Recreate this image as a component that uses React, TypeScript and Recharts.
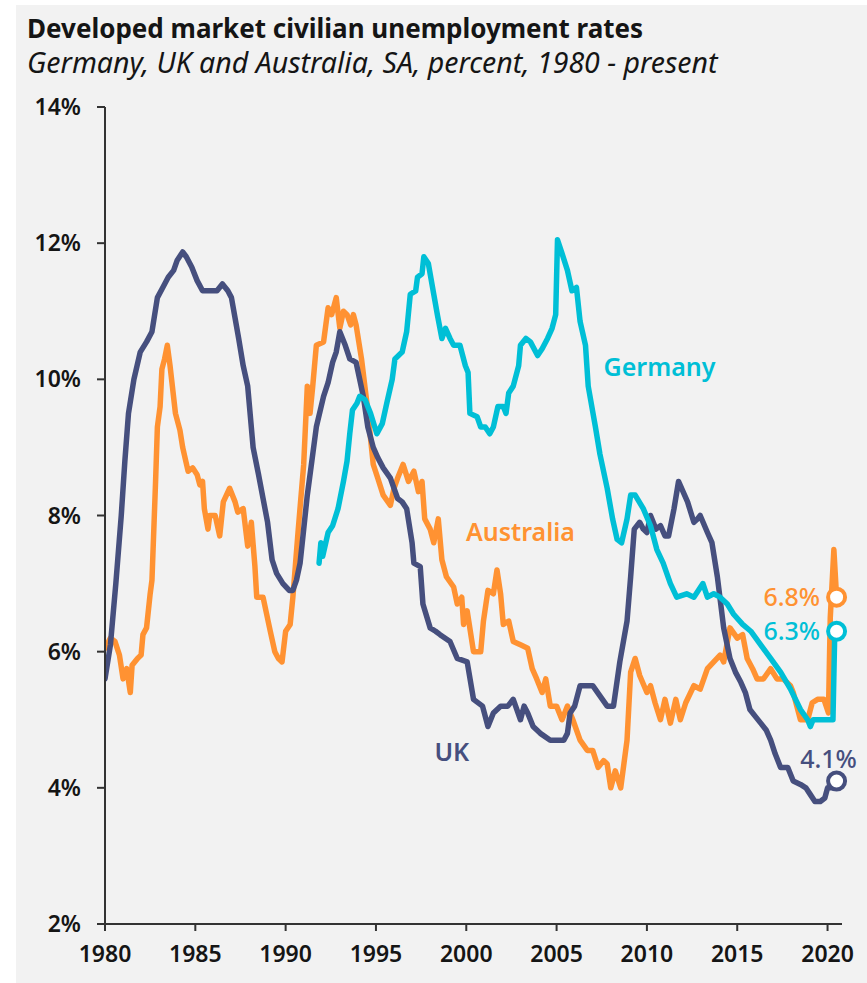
import React from 'react';
import { LineChart, Line, XAxis, YAxis, ReferenceDot } from 'recharts';

// UK unemployment, SA, percent
const ukYears = [
  1980.0, 1980.3, 1980.6, 1980.9, 1981.1, 1981.3, 1981.6, 1981.95, 1982.3, 1982.6, 1982.9,
  1983.2, 1983.5, 1983.8, 1984.0, 1984.3, 1984.5, 1984.8, 1985.1, 1985.4, 1985.8, 1986.2,
  1986.5, 1986.8, 1987.0, 1987.2, 1987.4, 1987.65, 1987.9, 1988.2, 1988.5, 1988.75, 1989.0,
  1989.25, 1989.5, 1989.85, 1990.2, 1990.4, 1990.6, 1990.8, 1991.0, 1991.2, 1991.45, 1991.7,
  1992.1, 1992.35, 1992.6, 1992.8, 1993.0, 1993.3, 1993.55, 1993.9, 1994.1, 1994.3, 1994.55,
  1994.85, 1995.1, 1995.4, 1995.8, 1996.2, 1996.45, 1996.7, 1997.0, 1997.1, 1997.45, 1997.6,
  1998.0, 1998.3, 1998.55, 1999.1, 1999.5, 2000.05, 2000.4, 2000.9, 2001.2, 2001.5, 2001.9,
  2002.3, 2002.6, 2003.0, 2003.2, 2003.4, 2003.7, 2004.1, 2004.65, 2005.4, 2005.6, 2005.75,
  2006.0, 2006.3, 2007.0, 2007.4, 2007.8, 2008.15, 2008.5, 2008.9, 2009.1, 2009.3, 2009.6,
  2009.8, 2010.0, 2010.2, 2010.5, 2010.75, 2011.0, 2011.2, 2011.5, 2011.75, 2012.0, 2012.25,
  2012.6, 2012.8, 2012.95, 2013.35, 2013.6, 2013.9, 2014.25, 2014.6, 2014.9, 2015.2, 2015.45,
  2015.7, 2016.0, 2016.3, 2016.6, 2016.85, 2017.1, 2017.4, 2017.8, 2018.1, 2018.5, 2018.8,
  2019.05, 2019.3, 2019.6, 2019.85, 2020.0, 2020.3, 2020.5,
];
const ukRates = [
  5.6, 6.1, 7.0, 8.0, 8.8, 9.5, 10.0, 10.4, 10.55, 10.7, 11.2,
  11.35, 11.5, 11.6, 11.75, 11.87, 11.8, 11.65, 11.45, 11.3, 11.3, 11.3,
  11.4, 11.3, 11.2, 10.9, 10.6, 10.2, 9.9, 9.0, 8.6, 8.25, 7.9,
  7.35, 7.15, 7.0, 6.9, 6.9, 7.05, 7.3, 7.8, 8.3, 8.8, 9.3,
  9.75, 9.95, 10.25, 10.4, 10.7, 10.5, 10.3, 10.25, 10.0, 9.75, 9.3,
  9.0, 8.85, 8.7, 8.55, 8.25, 8.2, 8.1, 7.6, 7.3, 7.25, 6.7,
  6.35, 6.3, 6.25, 6.15, 5.9, 5.85, 5.3, 5.2, 4.9, 5.1, 5.2,
  5.2, 5.3, 5.0, 5.2, 5.1, 4.9, 4.8, 4.7, 4.7, 4.8, 5.1,
  5.2, 5.5, 5.5, 5.35, 5.2, 5.2, 5.85, 6.45, 7.1, 7.8, 7.9,
  7.8, 7.75, 8.0, 7.8, 7.85, 7.7, 7.7, 8.1, 8.5, 8.35, 8.2,
  7.9, 7.95, 8.0, 7.75, 7.6, 7.1, 6.35, 5.9, 5.7, 5.55, 5.4,
  5.15, 5.05, 4.95, 4.85, 4.7, 4.5, 4.3, 4.3, 4.1, 4.05, 4.0,
  3.9, 3.8, 3.8, 3.85, 4.0, 4.0, 4.1,
];

// Australia unemployment, SA, percent
const auYears = [
  1980.0, 1980.3, 1980.55, 1980.8, 1981.0, 1981.2, 1981.4, 1981.5, 1981.8, 1982.0, 1982.1,
  1982.3, 1982.5, 1982.6, 1982.8, 1982.9, 1983.05, 1983.15, 1983.3, 1983.45, 1983.6, 1983.9,
  1984.15, 1984.3, 1984.6, 1984.85, 1985.1, 1985.25, 1985.4, 1985.5, 1985.7, 1985.8, 1986.1,
  1986.35, 1986.55, 1986.9, 1987.2, 1987.35, 1987.65, 1987.9, 1988.1, 1988.3, 1988.4, 1988.75,
  1988.95, 1989.15, 1989.4, 1989.6, 1989.8, 1990.0, 1990.25, 1990.4, 1990.7, 1991.0, 1991.2,
  1991.35, 1991.5, 1991.7, 1992.1, 1992.35, 1992.55, 1992.8, 1993.0, 1993.2, 1993.4, 1993.6,
  1993.75, 1993.9, 1994.2, 1994.5, 1994.85, 1995.1, 1995.4, 1995.8, 1996.0, 1996.2, 1996.5,
  1996.8, 1997.1, 1997.35, 1997.55, 1997.7, 1998.0, 1998.2, 1998.45, 1998.65, 1998.9, 1999.3,
  1999.5, 1999.75, 1999.85, 2000.05, 2000.4, 2000.8, 2000.95, 2001.2, 2001.5, 2001.7, 2001.9,
  2002.05, 2002.35, 2002.6, 2003.0, 2003.4, 2003.65, 2003.9, 2004.2, 2004.4, 2004.65, 2005.0,
  2005.3, 2005.6, 2005.9, 2006.3, 2006.7, 2007.0, 2007.3, 2007.6, 2007.8, 2008.0, 2008.25,
  2008.55, 2008.9, 2009.1, 2009.35, 2009.6, 2010.0, 2010.2, 2010.45, 2010.75, 2011.0, 2011.3,
  2011.6, 2011.85, 2012.15, 2012.6, 2012.95, 2013.35, 2013.7, 2014.05, 2014.25, 2014.6, 2015.0,
  2015.3, 2015.55, 2015.85, 2016.1, 2016.45, 2016.85, 2017.2, 2017.55, 2017.95, 2018.1, 2018.5,
  2018.9, 2019.15, 2019.45, 2019.8, 2020.05, 2020.15, 2020.35, 2020.5,
];
const auRates = [
  6.05, 6.2, 6.15, 5.95, 5.6, 5.75, 5.4, 5.8, 5.9, 5.95, 6.25,
  6.35, 6.85, 7.05, 8.5, 9.3, 9.6, 10.15, 10.3, 10.5, 10.2, 9.5,
  9.25, 9.0, 8.65, 8.7, 8.6, 8.45, 8.5, 8.1, 7.8, 8.0, 8.0,
  7.7, 8.2, 8.4, 8.2, 8.05, 8.1, 7.55, 7.9, 7.25, 6.8, 6.8,
  6.55, 6.3, 6.0, 5.9, 5.85, 6.3, 6.4, 6.8, 7.8, 8.75, 9.9,
  9.5, 9.9, 10.5, 10.55, 11.05, 10.95, 11.2, 10.75, 11.0, 10.95, 10.8,
  10.95, 10.8, 10.3, 9.65, 8.75, 8.55, 8.3, 8.15, 8.4, 8.55, 8.75,
  8.5, 8.65, 8.35, 8.5, 7.95, 7.8, 7.6, 7.95, 7.35, 7.1, 6.95,
  6.7, 6.8, 6.4, 6.6, 6.0, 6.0, 6.45, 6.9, 6.85, 7.2, 6.85,
  6.4, 6.45, 6.15, 6.1, 6.05, 5.75, 5.6, 5.4, 5.6, 5.2, 5.2,
  5.0, 5.2, 5.0, 4.7, 4.55, 4.55, 4.3, 4.4, 4.35, 4.0, 4.25,
  4.0, 4.7, 5.7, 5.9, 5.65, 5.4, 5.5, 5.25, 5.0, 5.3, 4.95,
  5.3, 5.0, 5.25, 5.5, 5.45, 5.75, 5.85, 5.95, 5.85, 6.35, 6.2,
  6.25, 5.9, 5.75, 5.6, 5.6, 5.75, 5.6, 5.6, 5.5, 5.4, 5.0,
  5.0, 5.25, 5.3, 5.3, 5.1, 6.5, 7.5, 6.8,
];

// Germany unemployment, SA, percent (from reunification)
const deYears = [
  1991.85, 1991.95, 1992.05, 1992.35, 1992.6, 1992.9, 1993.2, 1993.4, 1993.55, 1993.7, 1993.95,
  1994.1, 1994.4, 1994.7, 1995.05, 1995.35, 1995.6, 1995.9, 1996.05, 1996.45, 1996.7, 1996.9,
  1997.2, 1997.3, 1997.55, 1997.65, 1997.9, 1998.2, 1998.4, 1998.65, 1998.85, 1999.1, 1999.3,
  1999.65, 1999.95, 2000.1, 2000.2, 2000.6, 2000.8, 2001.05, 2001.3, 2001.5, 2001.75, 2002.05,
  2002.2, 2002.35, 2002.6, 2002.9, 2003.0, 2003.3, 2003.55, 2003.95, 2004.2, 2004.5, 2004.75,
  2004.95, 2005.05, 2005.3, 2005.6, 2005.85, 2006.1, 2006.3, 2006.6, 2006.75, 2007.15, 2007.4,
  2007.8, 2008.1, 2008.35, 2008.6, 2008.9, 2009.1, 2009.35, 2009.8, 2010.2, 2010.55, 2010.9,
  2011.3, 2011.65, 2012.2, 2012.6, 2013.1, 2013.35, 2013.7, 2014.05, 2014.45, 2014.8, 2015.3,
  2015.75, 2016.3, 2016.85, 2017.4, 2017.95, 2018.5, 2018.9, 2019.05, 2019.2, 2020.05, 2020.3,
  2020.4,
];
const deRates = [
  7.3, 7.6, 7.4, 7.75, 7.85, 8.1, 8.5, 8.8, 9.2, 9.55, 9.65,
  9.75, 9.7, 9.5, 9.2, 9.35, 9.65, 10.0, 10.3, 10.4, 10.7, 11.25,
  11.3, 11.5, 11.55, 11.8, 11.7, 11.25, 10.95, 10.6, 10.75, 10.6, 10.5,
  10.5, 10.2, 10.1, 9.5, 9.45, 9.3, 9.3, 9.2, 9.3, 9.6, 9.6,
  9.5, 9.8, 9.9, 10.2, 10.5, 10.6, 10.55, 10.35, 10.45, 10.6, 10.75,
  10.95, 12.05, 11.85, 11.6, 11.3, 11.35, 10.85, 10.5, 9.9, 9.3, 8.9,
  8.4, 7.95, 7.65, 7.6, 7.95, 8.3, 8.3, 8.1, 7.85, 7.5, 7.3,
  7.0, 6.8, 6.85, 6.8, 7.0, 6.8, 6.85, 6.8, 6.7, 6.55, 6.4,
  6.3, 6.1, 5.9, 5.7, 5.45, 5.15, 5.0, 4.9, 5.0, 5.0, 5.0,
  6.3,
];

const xTicks = [1980, 1985, 1990, 1995, 2000, 2005, 2010, 2015, 2020];
const yTicks = [2, 4, 6, 8, 10, 12, 14];

const NAVY = '#464f7e';
const ORANGE = '#ff9232';
const CYAN = '#00bfd6';
const INK = '#151515';
const FONT = '"Noto Sans", "Open Sans", sans-serif';

const toPoints = (years: number[], rates: number[]) =>
  years.map((year, i) => ({ year, rate: rates[i] }));

const ukData = toPoints(ukYears, ukRates);
const auData = toPoints(auYears, auRates);
const deData = toPoints(deYears, deRates);

const last = (arr: number[]) => arr[arr.length - 1];
const endX = 2020.5;

export default function App() {
  const tickStyle = { fill: INK, fontSize: 23, fontWeight: 600, fontFamily: FONT };
  const lineProps = {
    type: 'linear' as const,
    dataKey: 'rate',
    strokeWidth: 5.5,
    strokeLinejoin: 'round' as const,
    strokeLinecap: 'round' as const,
    dot: false,
    activeDot: false,
    isAnimationActive: false,
  };
  const seriesLabel = (text: string, color: string) => ({
    value: text,
    position: 'center' as const,
    fill: color,
    fontSize: 25,
    fontWeight: 600,
    fontFamily: FONT,
  });
  const endLabel = (value: number, color: string, position: 'left' | 'top', extra = {}) => ({
    value: `${value}%`,
    position,
    offset: 8,
    fill: color,
    fontSize: 25,
    fontWeight: 500,
    fontFamily: FONT,
    ...extra,
  });

  return (
    <div style={{ position: 'absolute', left: 0, top: 0, width: 867, height: 983, background: '#fff', fontFamily: FONT }}>
      <div style={{ position: 'absolute', left: 16, top: 5, width: 851, height: 978, background: '#f2f2f2' }} />
      <div style={{ position: 'absolute', left: 27, top: 13, height: 30, lineHeight: '30px', fontSize: 26, fontWeight: 700, color: INK, whiteSpace: 'nowrap' }}>
        Developed market civilian unemployment rates
      </div>
      <div style={{ position: 'absolute', left: 27, top: 47, height: 30, lineHeight: '30px', fontSize: 28.5, fontStyle: 'italic', color: INK, whiteSpace: 'nowrap' }}>
        Germany, UK and Australia, SA, percent, 1980 - present
      </div>
      <div style={{ position: 'absolute', left: 0, top: 0 }}>
        <LineChart width={867} height={983} margin={{ top: 107, right: 25, bottom: 0, left: 0 }}>
          <XAxis
            type="number"
            dataKey="year"
            domain={[1980, 2020.8]}
            ticks={xTicks}
            allowDataOverflow
            height={59}
            tickSize={7}
            tickMargin={15}
            tick={tickStyle}
            stroke="#333"
            strokeWidth={2}
          />
          <YAxis
            type="number"
            domain={[2, 14]}
            ticks={yTicks}
            width={105}
            tickSize={8}
            tickMargin={16}
            tickFormatter={(v: number) => `${v}%`}
            tick={tickStyle}
            stroke="#333"
            strokeWidth={2}
          />
          <Line {...lineProps} data={auData} stroke={ORANGE} name="Australia" />
          <Line {...lineProps} data={ukData} stroke={NAVY} name="UK" />
          <Line {...lineProps} data={deData} stroke={CYAN} name="Germany" />

          <ReferenceDot x={2010.7} y={10.18} r={0} fill="none" stroke="none" label={seriesLabel('Germany', CYAN)} />
          <ReferenceDot x={2003.0} y={7.76} r={0} fill="none" stroke="none" label={seriesLabel('Australia', ORANGE)} />
          <ReferenceDot x={1999.2} y={4.53} r={0} fill="none" stroke="none" label={seriesLabel('UK', NAVY)} />

          <ReferenceDot
            x={endX}
            y={last(auRates)}
            r={8.5}
            fill="#fff"
            stroke={ORANGE}
            strokeWidth={4}
            label={endLabel(last(auRates), ORANGE, 'left')}
          />
          <ReferenceDot
            x={endX}
            y={last(deRates)}
            r={8.5}
            fill="#fff"
            stroke={CYAN}
            strokeWidth={4}
            label={endLabel(last(deRates), CYAN, 'left')}
          />
          <ReferenceDot
            x={endX}
            y={last(ukRates)}
            r={8.5}
            fill="#fff"
            stroke={NAVY}
            strokeWidth={4}
            label={endLabel(last(ukRates), NAVY, 'top', { offset: 5, dx: -8 })}
          />
        </LineChart>
      </div>
    </div>
  );
}
